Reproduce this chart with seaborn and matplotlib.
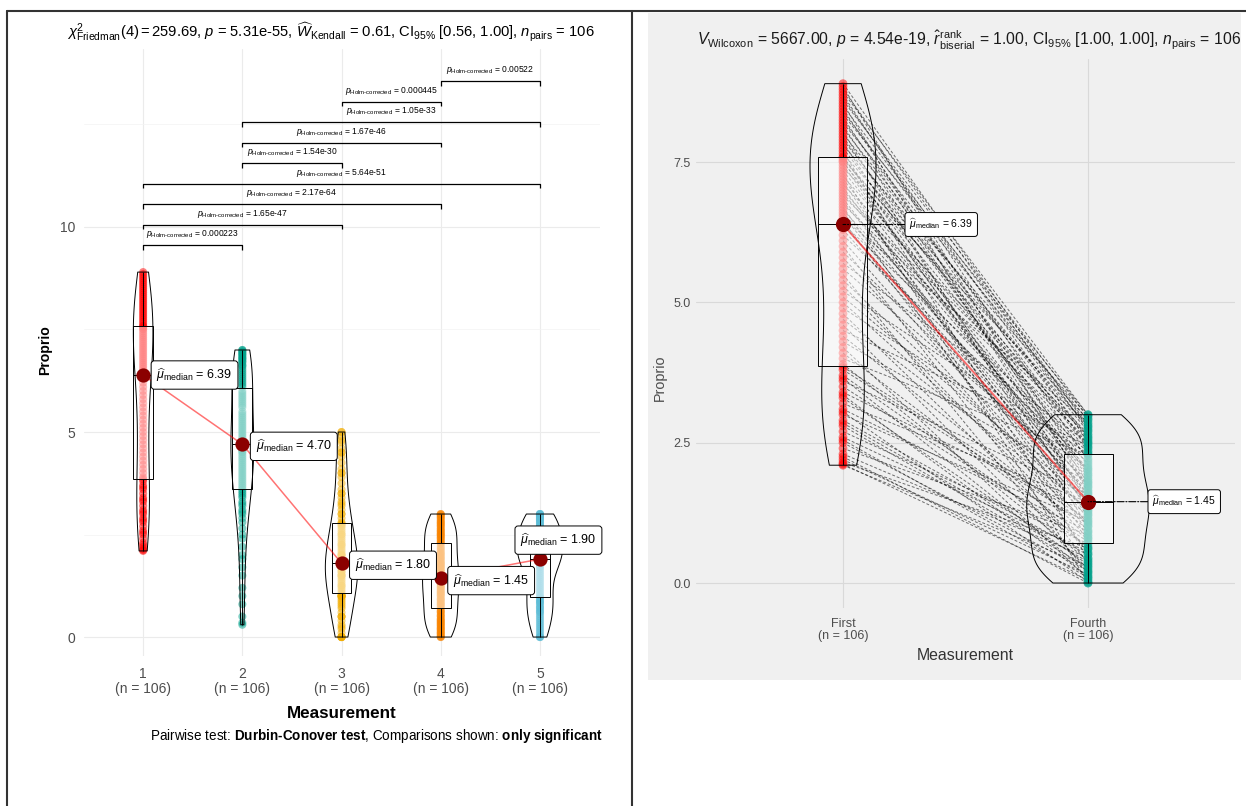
import numpy as np
import pandas as pd
import matplotlib
matplotlib.use("Agg")
import matplotlib.pyplot as plt
import matplotlib.patches as mpatches
from matplotlib.lines import Line2D
import seaborn as sns

# ---------------- data ----------------
categories = ["1", "2", "3", "4", "5"]
pair_labels = ["First", "Fourth"]

# Measurement 1 (= "First"), subject order
g1 = [2.10, 2.12, 2.15, 2.20, 2.25, 2.30, 2.40, 2.50, 2.55, 2.60, 2.70, 2.80, 2.85,
      2.90, 3.00, 3.05, 3.10, 3.20, 3.30, 3.35, 3.40, 3.50, 3.60, 3.65, 3.70, 3.80,
      3.85, 3.90, 4.00, 4.10, 4.20, 4.30, 4.40, 4.50, 4.60, 4.70, 4.80, 4.90, 5.00,
      5.10, 5.20, 5.30, 5.40, 5.50, 5.60, 5.70, 5.80, 5.90, 6.00, 6.10, 6.20, 6.30,
      6.38, 6.40, 6.45, 6.50, 6.55, 6.60, 6.65, 6.70, 6.75, 6.80, 6.85, 6.90, 6.95,
      7.00, 7.05, 7.10, 7.15, 7.20, 7.25, 7.30, 7.35, 7.40, 7.45, 7.50, 7.52, 7.55,
      7.58, 7.60, 7.65, 7.70, 7.75, 7.80, 7.85, 7.90, 7.95, 8.00, 8.05, 8.10, 8.15,
      8.20, 8.25, 8.30, 8.35, 8.40, 8.45, 8.50, 8.55, 8.60, 8.65, 8.70, 8.75, 8.80, 8.85, 8.90]

g2 = [0.30, 0.35, 0.50, 0.80, 1.00, 1.20, 1.50, 1.70, 1.90, 2.00, 2.20, 2.40, 2.50,
      2.65, 2.80, 2.90, 3.00, 3.05, 3.10, 3.20, 3.25, 3.30, 3.40, 3.45, 3.50, 3.55,
      3.60,
      3.65, 3.70, 3.75, 3.80, 3.85, 3.90, 3.95, 4.00, 4.05, 4.10, 4.15, 4.20, 4.25,
      4.30, 4.35, 4.40, 4.45, 4.50, 4.52, 4.55, 4.58, 4.60, 4.62, 4.65, 4.67, 4.69,
      4.71, 4.75, 4.80, 4.85, 4.90, 4.95, 5.00, 5.05, 5.10, 5.15, 5.20, 5.25, 5.30,
      5.35, 5.40, 5.45, 5.50, 5.60, 5.65, 5.70, 5.75, 5.80, 5.85, 5.90, 5.95, 6.00,
      6.10, 6.15, 6.20, 6.25, 6.30, 6.35, 6.40, 6.45, 6.50, 6.55, 6.60, 6.62, 6.65,
      6.70, 6.72, 6.75, 6.78, 6.80, 6.82, 6.85, 6.88, 6.90, 6.92, 6.95, 6.97, 7.00, 7.00]

g3 = [0.00, 0.00, 0.00, 0.00, 0.00, 0.00, 0.10, 0.20, 0.25, 0.30, 0.40, 0.50, 0.50,
      0.50, 0.60, 0.70, 0.75, 0.80, 0.85, 0.90, 0.95, 1.00, 1.00, 1.00, 1.00, 1.00,
      1.05,
      1.10, 1.15, 1.20, 1.25, 1.25, 1.30, 1.35, 1.40, 1.45, 1.50, 1.50, 1.50, 1.55,
      1.60, 1.60, 1.65, 1.70, 1.70, 1.75, 1.75, 1.75, 1.78, 1.79, 1.80, 1.80, 1.80,
      1.80, 1.85, 1.90, 1.95, 2.00, 2.00, 2.00, 2.05, 2.10, 2.15, 2.20, 2.25, 2.25,
      2.30, 2.35, 2.40, 2.45, 2.50, 2.50, 2.55, 2.60, 2.65, 2.70, 2.72, 2.75, 2.77,
      2.80, 2.90, 3.00, 3.00, 3.10, 3.20, 3.25, 3.30, 3.40, 3.50, 3.50, 3.60, 3.75,
      3.90, 4.00, 4.00, 4.10, 4.25, 4.40, 4.50, 4.50, 4.60, 4.75, 4.80, 4.90, 5.00, 5.00]

# Measurement 4 (= "Fourth"), same subject order as g1
g4 = [0.30, 0.05, 0.62, 0.15, 0.00, 0.45, 0.86, 0.22, 0.10, 0.55, 0.70, 0.28, 0.38,
      0.50, 1.10, 0.02, 0.92, 1.44, 0.33, 0.12, 1.25, 0.74, 1.58, 0.20, 0.65, 1.05,
      1.13, 0.40, 2.28, 0.78, 0.08, 1.80, 0.95, 2.45, 0.25, 1.33, 0.60, 2.06, 1.08,
      1.46, 2.30, 0.80, 1.28, 0.18, 1.83, 2.50, 1.02, 1.66, 0.35, 1.16, 2.14, 1.40,
      1.60, 2.33, 0.83, 2.86, 1.20, 1.75, 2.00, 0.52, 2.55, 1.50, 1.35, 2.63, 1.86,
      2.03, 1.22, 2.66, 0.90, 1.70, 2.36, 0.00, 1.90, 2.92, 1.52, 2.22, 1.38, 2.58,
      2.48, 1.55, 2.80, 0.43, 2.10, 2.98, 1.30, 2.40, 1.93, 2.70, 1.00, 2.60, 1.72,
      2.90, 2.42, 1.78, 3.00, 2.75, 1.96, 2.83, 1.42, 2.95, 2.52, 2.18, 3.00, 2.72, 1.63, 2.78]

g5 = [0.00, 0.00, 0.00, 0.05, 0.10, 0.15, 0.20, 0.25, 0.30, 0.35, 0.40, 0.45, 0.50,
      0.55, 0.60, 0.62, 0.65, 0.70, 0.72, 0.75, 0.80, 0.83, 0.85, 0.88, 0.90, 0.95,
      0.97,
      1.00, 1.05, 1.10, 1.15, 1.20, 1.25, 1.30, 1.35, 1.40, 1.45, 1.50, 1.55, 1.60,
      1.65, 1.70, 1.72, 1.75, 1.78, 1.80, 1.82, 1.84, 1.85, 1.86, 1.87, 1.88, 1.89,
      1.91, 1.93, 1.95, 1.97, 2.00, 2.02, 2.05, 2.07, 2.10, 2.12, 2.15, 2.17, 2.20,
      2.22, 2.24, 2.26, 2.28, 2.30, 2.31, 2.32, 2.33, 2.34, 2.35, 2.36, 2.37, 2.38,
      2.40, 2.45, 2.50, 2.55, 2.60, 2.62, 2.65, 2.68, 2.70, 2.72, 2.75, 2.77, 2.80,
      2.82, 2.85, 2.87, 2.88, 2.90, 2.92, 2.94, 2.95, 2.96, 2.98, 3.00, 3.00, 3.00, 3.00]

pairs = [(1, 2), (1, 3), (1, 4), (1, 5), (2, 3), (2, 4), (2, 5), (3, 4), (4, 5)]
pair_p = ["0.000223", "1.65e-47", "2.17e-64", "5.64e-51", "1.54e-30",
          "1.67e-46", "1.05e-33", "0.000445", "0.00522"]

HY = "\u2010"  # typographic hyphen usable inside mathtext
title_left = (r"$\chi^{2}_{\mathrm{Friedman}}(4) = 259.69$, $p$ = 5.31e-55, "
              r"$\widehat{W}_{\mathrm{Kendall}}$ = 0.61, CI$_{95\%}$ [0.56, 1.00], "
              r"$n_{\mathrm{pairs}}$ = 106")
title_right = (r"$V_{\mathrm{Wilcoxon}}$ = 5667.00, $p$ = 4.54e-19, "
               r"$\hat{r}_{\mathrm{biserial}}^{\mathrm{rank}}$ = 1.00, CI$_{95\%}$ [1.00, 1.00], "
               r"$n_{\mathrm{pairs}}$ = 106")
caption = (r"Pairwise test: $\mathbf{Durbin" + HY + r"Conover\ test}$, "
           r"Comparisons shown: $\mathbf{only\ significant}$")
p_label = r"$p_{\mathrm{Holm" + HY + r"corrected}}$"

palette_left = ["#FF0000", "#00A08A", "#F2AD00", "#F98400", "#5BBCD6"]
palette_right = ["#FF0000", "#00A08A"]

# ---------------- style ----------------
sns.set_theme(style="white")
plt.rcParams["font.family"] = ["Liberation Sans", "DejaVu Sans"]
plt.rcParams["mathtext.fontset"] = "custom"
plt.rcParams["mathtext.rm"] = "Liberation Sans"
plt.rcParams["mathtext.it"] = "Liberation Sans:italic"
plt.rcParams["mathtext.bf"] = "Liberation Sans:bold"

W, H = 1246, 806
fig = plt.figure(figsize=(W / 100, H / 100), dpi=100)
fig.patch.set_facecolor("white")


def fx(px):
    return px / W


def fy(py):
    return 1 - py / H


def rect(l, t, r, b):
    return [fx(l), fy(b), fx(r) - fx(l), fy(t) - fy(b)]


# gray background of the right cell + table borders
fig.add_artist(mpatches.Rectangle((fx(648), fy(680)), fx(1241) - fx(648), fy(12.5) - fy(680),
                                  transform=fig.transFigure, facecolor="#F0F0F0",
                                  edgecolor="none", zorder=0))
for xs_, ys_ in [([fx(7), 1.0], [fy(10.5), fy(10.5)]),
                 ([fx(7), fx(7)], [fy(10.5), 0.0]),
                 ([fx(632), fx(632)], [fy(10.5), 0.0])]:
    fig.add_artist(Line2D(xs_, ys_, transform=fig.transFigure, color="#333333", lw=1.5))


def track(ax, fn):
    before = set(ax.get_children())
    fn()
    return [a for a in ax.get_children() if a not in before]


def layer(ax, df, order, pal, pt_size, z_base, vwidth):
    arts = track(ax, lambda: sns.stripplot(data=df, x="Measurement", y="Proprio", order=order,
                                           hue="Measurement", hue_order=order, palette=pal,
                                           jitter=False, size=pt_size, alpha=0.5, linewidth=0,
                                           legend=False, ax=ax))
    for a in arts:
        a.set_zorder(z_base)
    arts = track(ax, lambda: sns.boxplot(data=df, x="Measurement", y="Proprio", order=order,
                                         width=0.2, color="white", linecolor="black",
                                         linewidth=0.7, showfliers=False, showcaps=False, ax=ax))
    for a in arts:
        a.set_zorder(z_base + 1)
        if isinstance(a, mpatches.PathPatch):
            a.set_facecolor((1, 1, 1, 0.5))
    arts = track(ax, lambda: sns.violinplot(data=df, x="Measurement", y="Proprio", order=order,
                                            width=vwidth, density_norm="area", cut=0, inner=None,
                                            fill=False, color="black", linewidth=0.7,
                                            bw_method="silverman", ax=ax))
    for a in arts:
        a.set_zorder(z_base + 2)


def median_label(m):
    return r"$\widehat{\mu}_{\mathrm{median}}$" + f" = {m:.2f}"


# ================= LEFT PANEL =================
axL = fig.add_axes(rect(83.6, 48.6, 599.5, 655.5))
groups = [g1, g2, g3, g4, g5]
dfL = pd.DataFrame({"Measurement": np.repeat(categories, [len(g) for g in groups]),
                    "Proprio": np.concatenate(groups)})
layer(axL, dfL, categories, palette_left, 5.8, 2, 0.46)

medL = dfL.groupby("Measurement")["Proprio"].median().reindex(categories).values
xL = np.arange(len(categories))
axL.plot(xL, medL, color="red", alpha=0.55, lw=1.1, zorder=6)
axL.scatter(xL, medL, s=105, color="#8B0000", linewidths=0, zorder=7)

lab_fs_L = 9
lab_pad = 0.42
padL = lab_pad * lab_fs_L * 100 / 72
offsL = [(8, 0), (8, -2), (8, -2), (7, -3), (-25, 19)]
for i, (m, (dx, dy)) in enumerate(zip(medL, offsL)):
    axL.annotate(median_label(m), xy=(i, m), xytext=(dx + padL, dy),
                 textcoords="offset pixels", ha="left", va="center", fontsize=lab_fs_L,
                 color="black",
                 bbox=dict(boxstyle=f"round,pad={lab_pad},rounding_size=0.25", fc="white",
                           ec="black", lw=0.7), zorder=8)

# significance brackets
br_y0, br_step, tip = 9.55, 0.5, 0.1
br_texts = []
for k, ((a, b), pv) in enumerate(zip(pairs, pair_p)):
    y = br_y0 + br_step * k
    x1, x2 = a - 1, b - 1
    axL.plot([x1, x1, x2, x2], [y - tip, y, y, y - tip], color="black", lw=0.9, zorder=5,
             solid_capstyle="butt")
    t = axL.text((x1 + x2) / 2, y + 0.27, p_label + f" = {pv}",
                 ha="center", va="center", fontsize=5, color="black", zorder=5)
    br_texts.append(t)

axL.set_xlim(-0.6, 4.6)
axL.set_ylim(-0.45, 14.35)
axL.set_yticks([0, 5, 10])
axL.set_yticklabels(["0", "5", "10"])
axL.set_yticks([2.5, 7.5, 12.5], minor=True)
axL.set_xticks(xL)
axL.set_xticklabels([f"{c}\n(n = {len(g)})" for c, g in zip(categories, groups)],
                    linespacing=1.15)
axL.grid(True, which="major", color="#EBEBEB", lw=0.8)
axL.grid(True, which="minor", axis="y", color="#F3F3F3", lw=0.5)
axL.set_axisbelow(True)
for s in axL.spines.values():
    s.set_visible(False)
axL.tick_params(axis="both", which="major", length=3, width=0.6, color="#333333",
                labelcolor="#4D4D4D", labelsize=10, pad=3)
axL.tick_params(axis="y", which="minor", length=0)
axL.tick_params(axis="x", pad=5)
axL.set_xlabel("")
axL.set_ylabel("")

# ================= RIGHT PANEL =================
axR = fig.add_axes(rect(696, 58.7, 1235, 608))
axR.set_facecolor("#F0F0F0")
dfR = pd.DataFrame({"Measurement": np.repeat(pair_labels, [len(g1), len(g4)]),
                    "Proprio": np.concatenate([g1, g4])})
for a, b in zip(g1, g4):
    axR.plot([0, 1], [a, b], color="black", alpha=0.55, lw=0.7, ls=(0, (3, 2)), zorder=1.8)
layer(axR, dfR, pair_labels, palette_right, 6.3, 2, 0.5)

medR = dfR.groupby("Measurement")["Proprio"].median().reindex(pair_labels).values
xR = np.arange(2)
axR.plot(xR, medR, color="red", alpha=0.55, lw=1.4, zorder=6)
axR.scatter(xR, medR, s=120, color="#8B0000", linewidths=0, zorder=7)

lab_fs_R = 7.5
padR = lab_pad * lab_fs_R * 100 / 72
offsR = [62, 60]
for i, (m, dx) in enumerate(zip(medR, offsR)):
    axR.annotate(median_label(m), xy=(i, m), xytext=(dx + padR, 0),
                 textcoords="offset pixels", ha="left", va="center", fontsize=lab_fs_R,
                 color="black",
                 bbox=dict(boxstyle=f"round,pad={lab_pad},rounding_size=0.25", fc="white",
                           ec="black", lw=0.7),
                 arrowprops=dict(arrowstyle="-", ls="-.", lw=0.8, color="black",
                                 shrinkA=0, shrinkB=0),
                 zorder=8)

axR.set_xlim(-0.6, 1.6)
axR.set_ylim(-0.445, 9.345)
axR.set_yticks([0, 2.5, 5, 7.5])
axR.set_yticklabels(["0.0", "2.5", "5.0", "7.5"])
axR.set_xticks(xR)
axR.set_xticklabels([f"{c}\n(n = {n})" for c, n in zip(pair_labels, [len(g1), len(g4)])],
                    linespacing=1.0)
axR.grid(True, which="major", color="#D9D9D9", lw=0.8)
axR.set_axisbelow(True)
for s in axR.spines.values():
    s.set_visible(False)
axR.tick_params(axis="both", length=0, labelcolor="#4D4D4D", labelsize=9, pad=4)
axR.tick_params(axis="x", pad=7)
axR.set_xlabel("")
axR.set_ylabel("")

# ================= texts =================
tL = fig.text(fx(331), fy(32), title_left, ha="center", va="center", fontsize=11, color="black")
tR = fig.text(fx(969), fy(40), title_right, ha="center", va="center", fontsize=11,
              color="#1A1A1A")
cap = fig.text(fx(603), fy(736), caption, ha="right", va="center", fontsize=9, color="black")
xlL = fig.text(fx(341.5), fy(713), "Measurement", ha="center", va="center", fontsize=12,
               weight="bold", color="black")
ylL = fig.text(fx(45), fy(350), "Proprio", ha="center", va="center", rotation=90, fontsize=11,
               weight="bold", color="black")
xlR = fig.text(fx(965.5), fy(655), "Measurement", ha="center", va="center", fontsize=11,
               color="#333333")
ylR = fig.text(fx(660), fy(378), "Proprio", ha="center", va="center", rotation=90, fontsize=11,
               color="#4D4D4D")

R = fig.canvas.get_renderer()


def fit_w(t, target):
    w = t.get_window_extent(R).width
    t.set_fontsize(t.get_fontsize() * target / w)


def fit_h(t, target):
    h = t.get_window_extent(R).height
    t.set_fontsize(t.get_fontsize() * target / h)


fit_w(tL, 527)
fit_w(tR, 542)
fit_w(cap, 454)
fit_w(xlL, 109)
fit_w(xlR, 97)
fit_h(ylL, 50)
fit_h(ylR, 46)
w0 = br_texts[0].get_window_extent(R).width
for t in br_texts:
    t.set_fontsize(t.get_fontsize() * 94 / w0)

fig.savefig("out.png", dpi=100, facecolor="white")
